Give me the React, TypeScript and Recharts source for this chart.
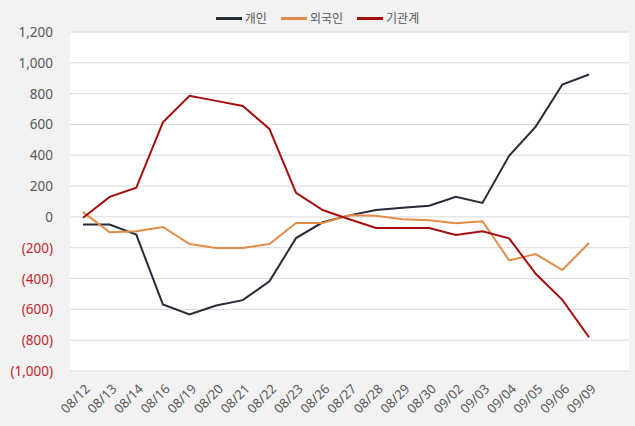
import React from 'react';
import { LineChart, Line, XAxis, YAxis, CartesianGrid, Legend } from 'recharts';

const dates = ['08/12', '08/13', '08/14', '08/16', '08/19', '08/20', '08/21', '08/22', '08/23', '08/26', '08/27', '08/28', '08/29', '08/30', '09/02', '09/03', '09/04', '09/05', '09/06', '09/09'];
const individual = [-50, -50, -115, -568, -633, -575, -540, -418, -137, -35, 10, 45, 60, 72, 130, 91, 397, 586, 859, 924];
const foreign = [31, -100, -93, -65, -176, -202, -202, -176, -39, -39, 11, 7, -15, -21, -41, -28, -282, -241, -345, -169];
const institution = [-5, 130, 189, 614, 786, 753, 720, 571, 156, 45, -15, -72, -72, -72, -117, -93, -139, -369, -538, -781];
const yTicks = [-1000, -800, -600, -400, -200, 0, 200, 400, 600, 800, 1000, 1200];

const data = dates.map((d, i) => ({
  date: d,
  개인: individual[i],
  외국인: foreign[i],
  기관계: institution[i],
}));

const series = [
  { key: '개인', color: '#262b38' },
  { key: '외국인', color: '#e38b48' },
  { key: '기관계', color: '#a50d0d' },
];

const FONT = "'Noto Sans', 'Noto Sans CJK KR', sans-serif";

const fmt = (v: number) => {
  const s = Math.abs(v).toLocaleString('en-US');
  return v < 0 ? `(${s})` : s;
};

const YTick = (props: any) => {
  const { x, y, payload } = props;
  const v = payload.value;
  return (
    <text x={x - 9} y={y} dy={5} textAnchor="end" fontSize={13.5} fontFamily={FONT} fill={v < 0 ? '#c0282d' : '#595959'}>
      {fmt(v)}
    </text>
  );
};

const XTick = (props: any) => {
  const { x, y, payload } = props;
  return (
    <g transform={`translate(${x + 5},${y + 8})`}>
      <text transform="rotate(-45)" textAnchor="end" fontSize={13} fontFamily={FONT} fill="#595959" dy={4}>
        {payload.value}
      </text>
    </g>
  );
};

const LegendContent = () => (
  <div style={{ display: 'flex', justifyContent: 'center', gap: 14, fontFamily: FONT, fontSize: 12, color: '#595959' }}>
    {series.map((s) => (
      <div key={s.key} style={{ display: 'flex', alignItems: 'center', gap: 3 }}>
        <span style={{ display: 'inline-block', width: 26, height: 3, background: s.color }} />
        <span>{s.key}</span>
      </div>
    ))}
  </div>
);

export default function App() {
  return (
    <div style={{ position: 'absolute', left: 0, top: 0, width: 635, height: 426, background: '#f2f2f2' }}>
      <LineChart width={635} height={426} data={data} margin={{ top: 32, right: 6, bottom: 0, left: 0 }}>
        <CartesianGrid vertical={false} stroke="#d9d9d9" fill="#ffffff" />
        <XAxis
          dataKey="date"
          scale="point"
          height={55}
          padding={{ left: 13, right: 40 }}
          axisLine={false}
          tickLine={false}
          interval={0}
          tick={<XTick />}
        />
        <YAxis
          width={70}
          domain={[-1000, 1200]}
          ticks={yTicks}
          axisLine={false}
          tickLine={false}
          tick={<YTick />}
        />
        <Legend
          layout="horizontal"
          verticalAlign="middle"
          align="center"
          wrapperStyle={{ top: 9, left: 0, width: 635 }}
          content={<LegendContent />}
        />
        {series.map((s) => (
          <Line key={s.key} type="linear" dataKey={s.key} stroke={s.color} strokeWidth={2} dot={false} isAnimationActive={false} />
        ))}
      </LineChart>
    </div>
  );
}
